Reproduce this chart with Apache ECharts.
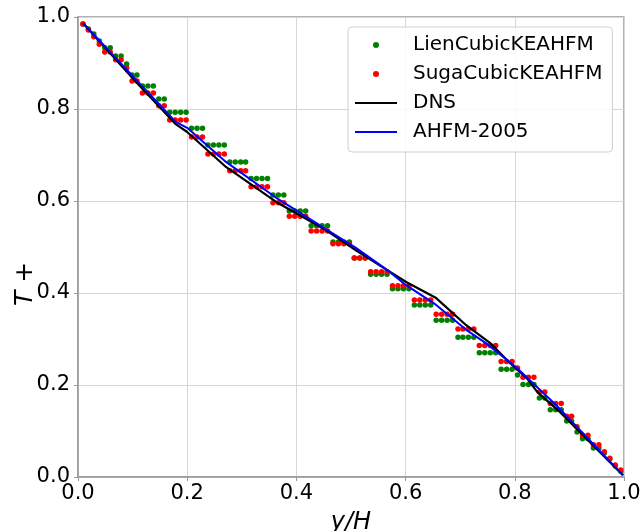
<!DOCTYPE html>
<html><head><meta charset="utf-8">
<script src="https://cdn.jsdelivr.net/npm/echarts@6/dist/echarts.min.js"></script>
<style>html,body{margin:0;padding:0;background:#fff}#c{width:643px;height:531px}</style>
</head><body><div id="c"></div>
<script>
// x positions (y/H) of the model points
const yH = [
0.009,0.019,0.029,0.039,0.049,0.059,0.069,0.079,0.089,0.099,
0.108,0.118,0.128,0.138,0.148,0.158,0.168,0.178,0.188,0.198,
0.208,0.218,0.228,0.238,0.248,0.258,0.268,0.278,0.288,0.298,
0.307,0.317,0.327,0.337,0.347,0.357,0.367,0.377,0.387,0.397,
0.407,0.417,0.427,0.437,0.447,0.457,0.467,0.477,0.487,0.497,
0.506,0.516,0.526,0.536,0.546,0.556,0.566,0.576,0.586,0.596,
0.606,0.616,0.626,0.636,0.646,0.656,0.666,0.676,0.686,0.696,
0.705,0.715,0.725,0.735,0.745,0.755,0.765,0.775,0.785,0.795,
0.805,0.815,0.825,0.835,0.845,0.855,0.865,0.875,0.885,0.895,
0.904,0.914,0.924,0.934,0.944,0.954,0.964,0.974,0.984,0.994];
const lienT = [
0.985,0.974,0.963,0.948,0.933,0.933,0.915,0.915,0.898,0.874,
0.874,0.850,0.850,0.850,0.822,0.822,0.793,0.793,0.793,0.793,
0.758,0.758,0.758,0.722,0.722,0.722,0.722,0.685,0.685,0.685,
0.685,0.649,0.649,0.649,0.649,0.613,0.613,0.613,0.578,0.578,
0.578,0.578,0.546,0.546,0.546,0.546,0.511,0.511,0.511,0.511,
0.476,0.476,0.476,0.441,0.441,0.441,0.441,0.409,0.409,0.409,
0.409,0.374,0.374,0.374,0.374,0.341,0.341,0.341,0.341,0.304,
0.304,0.304,0.304,0.270,0.270,0.270,0.270,0.234,0.234,0.234,
0.222,0.201,0.201,0.201,0.172,0.172,0.146,0.146,0.146,0.122,
0.122,0.098,0.083,0.083,0.063,0.063,0.052,0.039,0.024,0.013];
const sugaT = [
0.985,0.972,0.957,0.941,0.924,0.924,0.907,0.907,0.889,0.861,
0.861,0.835,0.835,0.835,0.807,0.807,0.776,0.776,0.776,0.776,
0.739,0.739,0.739,0.702,0.702,0.702,0.702,0.666,0.666,0.666,
0.666,0.631,0.631,0.631,0.631,0.596,0.596,0.596,0.567,0.567,
0.567,0.567,0.535,0.535,0.535,0.535,0.507,0.507,0.507,0.507,
0.476,0.476,0.476,0.446,0.446,0.446,0.446,0.416,0.416,0.416,
0.416,0.385,0.385,0.385,0.385,0.354,0.354,0.354,0.354,0.322,
0.322,0.322,0.322,0.286,0.286,0.286,0.286,0.251,0.251,0.251,
0.237,0.217,0.217,0.217,0.185,0.185,0.160,0.160,0.160,0.132,
0.132,0.109,0.091,0.091,0.070,0.070,0.055,0.041,0.026,0.015];
const dnsX = [0.009,0.106,0.179,0.200,0.271,0.363,0.399,0.454,0.509,0.546,0.601,0.656,0.711,0.755,0.791,0.822,0.841,0.883,0.998];
const dnsT = [0.987,0.859,0.767,0.750,0.674,0.598,0.574,0.537,0.493,0.465,0.424,0.389,0.330,0.291,0.248,0.215,0.185,0.141,0.004];
const ahfmX = [0.009,0.100,0.179,0.200,0.271,0.363,0.399,0.454,0.509,0.564,0.601,0.656,0.711,0.747,0.802,0.875,0.998];
const ahfmT = [0.987,0.872,0.772,0.759,0.685,0.607,0.580,0.539,0.498,0.452,0.417,0.374,0.320,0.291,0.239,0.157,0.004];
const seriesNames = ['LienCubicKEAHFM','SugaCubicKEAHFM','DNS','AHFM-2005'];

const zip = (xs, ys) => xs.map((x, i) => [x, ys[i]]);
const FONT = 'DejaVu Sans';
const LINE_ICON = 'path://M0,0H40V2H0Z';
const chart = echarts.init(document.getElementById('c'), null, {renderer: 'canvas'});
const axisCommon = {
  type: 'value', min: 0, max: 1, interval: 0.2,
  nameLocation: 'middle', nameMoveOverlap: false,
  axisLine: {show: true, lineStyle: {color: '#999', width: 1.5}},
  axisTick: {show: true, length: 4, lineStyle: {color: '#999'}},
  splitLine: {show: true, lineStyle: {color: '#d6d6d6', width: 1}},
  axisLabel: {fontFamily: FONT, fontSize: 21, color: '#000', formatter: v => v.toFixed(1)}
};
chart.setOption({
  animation: false,
  grid: {left: 78, right: 19, top: 17, bottom: 54, show: true, borderColor: '#999', borderWidth: 1.5,
         containLabel: false, outerBoundsMode: 'none'},
  xAxis: Object.assign({}, axisCommon, {
    name: 'y/H', nameGap: 34,
    nameTextStyle: {fontFamily: FONT, fontSize: 24, fontStyle: 'italic', color: '#000'},
    axisLabel: Object.assign({}, axisCommon.axisLabel, {margin: 6})
  }),
  yAxis: Object.assign({}, axisCommon, {
    name: '{i|T} +', nameGap: 40, nameRotate: 90,
    nameTextStyle: {fontFamily: FONT, fontSize: 25, color: '#000', padding: [0, 74, 0, 0],
      rich: {i: {fontFamily: FONT, fontSize: 25, fontStyle: 'italic', color: '#000'}}},
    axisLabel: Object.assign({}, axisCommon.axisLabel, {margin: 8})
  }),
  legend: {
    data: [
      {name: seriesNames[0], icon: 'circle'},
      {name: seriesNames[1], icon: 'circle'},
      {name: seriesNames[2], icon: LINE_ICON},
      {name: seriesNames[3], icon: LINE_ICON}
    ],
    orient: 'vertical', left: 348, top: 27,
    itemWidth: 42, itemHeight: 6, itemGap: 9,
    backgroundColor: 'rgba(255,255,255,0.85)', borderColor: '#d0d0d0', borderWidth: 1, borderRadius: 4,
    padding: [8, 10, 10, 7],
    textStyle: {fontFamily: FONT, fontSize: 20, color: '#000', lineHeight: 20, padding: [0, 0, 0, 11]}
  },
  series: [
    {name: seriesNames[0], type: 'scatter', data: zip(yH, lienT), symbolSize: 5.5, itemStyle: {color: '#008000', opacity: 1}},
    {name: seriesNames[1], type: 'scatter', data: zip(yH, sugaT), symbolSize: 5.5, itemStyle: {color: '#ff0000', opacity: 1}},
    {name: seriesNames[2], type: 'line', data: zip(dnsX, dnsT), symbol: 'none', lineStyle: {color: '#000', width: 2.2}, itemStyle: {color: '#000'}},
    {name: seriesNames[3], type: 'line', data: zip(ahfmX, ahfmT), symbol: 'none', lineStyle: {color: '#0000ff', width: 2}, itemStyle: {color: '#0000ff'}}
  ]
});
</script></body></html>
